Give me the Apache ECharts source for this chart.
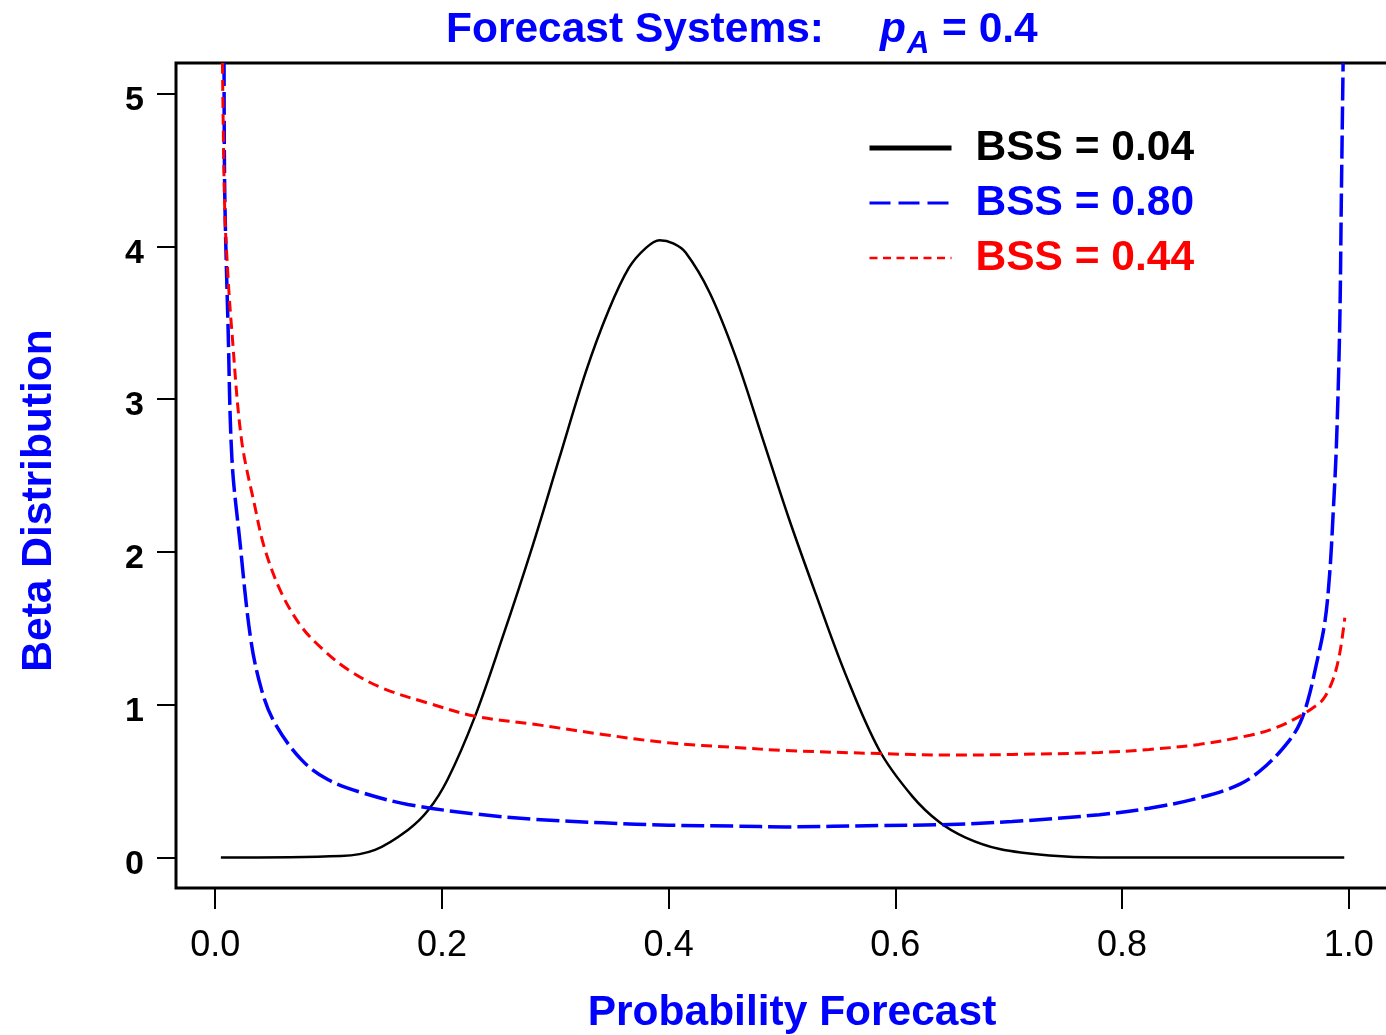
<!DOCTYPE html>
<html>
<head>
<meta charset="utf-8">
<title>Forecast Systems</title>
<script src="https://cdn.jsdelivr.net/npm/echarts@6/dist/echarts.min.js"></script>
<style>
html, body { margin: 0; padding: 0; background: #fff; }
#chartDiv { width: 1386px; height: 1035px; }
</style>
</head>
<body>
<div id="chartDiv"></div>
<script>
// 数据
var xTicks = [0, 0.2, 0.4, 0.6, 0.8, 1.0];
var yTicks = [0, 1, 2, 3, 4, 5];
var names = ['BSS = 0.04', 'BSS = 0.80', 'BSS = 0.44'];

var blackX = [0.005, 0.111, 0.141, 0.17, 0.188, 0.205, 0.229, 0.253, 0.28, 0.303, 0.327, 0.347, 0.365, 0.38, 0.392, 0.404, 0.415, 0.436, 0.459, 0.483, 0.506, 0.53, 0.556, 0.586, 0.615, 0.639, 0.662, 0.692, 0.736, 0.78, 0.996];
var blackY = [0, 0.01, 0.05, 0.18, 0.31, 0.51, 0.92, 1.43, 2.04, 2.60, 3.18, 3.58, 3.86, 3.99, 4.04, 4.02, 3.96, 3.70, 3.28, 2.74, 2.22, 1.72, 1.20, 0.70, 0.40, 0.23, 0.13, 0.055, 0.013, 0, 0];

var blueX = [0.0078, 0.0084, 0.0113, 0.0148, 0.0216, 0.0313, 0.0408, 0.0525, 0.076, 0.0993, 0.129, 0.17, 0.229, 0.283, 0.342, 0.40, 0.459, 0.503, 0.586, 0.639, 0.703, 0.78, 0.824, 0.868, 0.904, 0.927, 0.948, 0.957, 0.964, 0.971, 0.9788, 0.9832, 0.9862, 0.9891, 0.992, 0.9935, 0.995];
var blueY = [5.2, 4.35, 3.48, 2.60, 2.08, 1.43, 1.10, 0.88, 0.64, 0.51, 0.425, 0.347, 0.285, 0.249, 0.227, 0.211, 0.205, 0.20, 0.209, 0.214, 0.235, 0.28, 0.322, 0.39, 0.48, 0.60, 0.77, 0.88, 1.03, 1.25, 1.536, 1.863, 2.25, 2.70, 3.48, 4.35, 5.2];

var redX = [0.0064, 0.0084, 0.0113, 0.0143, 0.0231, 0.0349, 0.0437, 0.0585, 0.0761, 0.0938, 0.117, 0.147, 0.188, 0.229, 0.283, 0.342, 0.40, 0.459, 0.503, 0.586, 0.645, 0.703, 0.78, 0.824, 0.868, 0.913, 0.936, 0.957, 0.9685, 0.9773, 0.9861, 0.9921, 0.9965];
var redY = [5.2, 4.24, 3.80, 3.48, 2.74, 2.30, 2.02, 1.73, 1.51, 1.37, 1.23, 1.11, 1.01, 0.925, 0.87, 0.805, 0.75, 0.72, 0.70, 0.68, 0.67, 0.674, 0.687, 0.707, 0.74, 0.80, 0.85, 0.925, 0.98, 1.034, 1.165, 1.34, 1.569];

function pairs(xs, ys) {
    var out = [];
    for (var i = 0; i < xs.length; i++) out.push([xs[i], ys[i]]);
    return out;
}

var font = 'Liberation Sans, Arial, Helvetica, sans-serif';
var Chart1 = echarts.init(document.getElementById('chartDiv'));

var option = {
    animation: false,
    backgroundColor: '#fff',
    textStyle: { fontFamily: font },
    graphic: [
        { type: 'text', left: 446, top: 9, style: { text: 'Forecast Systems:', fill: '#0000ff', font: 'bold 42.5px ' + font } },
        { type: 'text', left: 880, top: 9, style: { text: 'p', fill: '#0000ff', font: 'italic bold 42.5px ' + font } },
        { type: 'text', left: 907, top: 29, style: { text: 'A', fill: '#0000ff', font: 'italic bold 31px ' + font } },
        { type: 'text', left: 942, top: 9, style: { text: '= 0.4', fill: '#0000ff', font: 'bold 42.5px ' + font } }
    ],
    grid: {
        left: 176, top: 63, width: 1212, height: 825,
        outerBoundsMode: 'none',
        show: true, borderColor: '#000', borderWidth: 3, backgroundColor: 'transparent'
    },
    legend: {
        orient: 'vertical', left: 862, top: 121,
        itemWidth: 82, itemHeight: 20, itemGap: 11,
        selectedMode: false,
        itemStyle: { opacity: 0 },
        textStyle: { fontSize: 42.5, fontWeight: 'bold', fontFamily: font, lineHeight: 44, padding: [0, 0, 0, 19] },
        data: [
            { name: names[0], textStyle: { color: '#000' }, lineStyle: { width: 5, type: 'solid' } },
            { name: names[1], textStyle: { color: '#0000ff' }, lineStyle: { width: 3, type: [21, 8] } },
            { name: names[2], textStyle: { color: '#ff0000' }, lineStyle: { width: 2.5, type: [8, 5.5] } }
        ]
    },
    xAxis: {
        type: 'value', min: -0.0346, max: 1.0346,
        name: 'Probability Forecast', nameLocation: 'middle', nameGap: 104,
        nameTextStyle: { color: '#0000ff', fontSize: 42.5, fontWeight: 'bold', fontFamily: font, padding: [0, 0, 0, 20] },
        axisLine: { show: false, onZero: false },
        splitLine: { show: false },
        axisTick: { show: true, length: 21, lineStyle: { color: '#000', width: 2 }, customValues: xTicks },
        axisLabel: {
            customValues: xTicks, color: '#000', fontSize: 36, fontFamily: font, margin: 40,
            formatter: function (v) { return v.toFixed(1); }
        }
    },
    yAxis: {
        type: 'value', min: -0.2, max: 5.2,
        name: 'Beta Distribution', nameLocation: 'middle', nameGap: 115, nameRotate: 90,
        nameTextStyle: { color: '#0000ff', fontSize: 42.5, fontWeight: 'bold', fontFamily: font, padding: [0, 50, 0, 0] },
        axisLine: { show: false, onZero: false },
        splitLine: { show: false },
        axisTick: { show: true, length: 19, lineStyle: { color: '#000', width: 2 }, customValues: yTicks },
        axisLabel: {
            customValues: yTicks, color: '#000', fontSize: 34, fontWeight: 'bold', fontFamily: font, margin: 32,
            verticalAlign: 'top', lineHeight: 14,
            formatter: function (v) { return String(v); }
        }
    },
    series: [
        {
            name: names[0], type: 'line', data: pairs(blackX, blackY),
            symbol: 'none', smooth: 0.35, clip: true,
            lineStyle: { color: '#000', width: 2.5 }, itemStyle: { color: '#000' }
        },
        {
            name: names[1], type: 'line', data: pairs(blueX, blueY),
            symbol: 'none', smooth: 0.35, clip: true,
            lineStyle: { color: '#0000ff', width: 3.5, type: [23, 6] }, itemStyle: { color: '#0000ff' }
        },
        {
            name: names[2], type: 'line', data: pairs(redX, redY),
            symbol: 'none', smooth: 0.35, clip: true,
            lineStyle: { color: '#ff0000', width: 3, type: [11, 6] }, itemStyle: { color: '#ff0000' }
        }
    ]
};

Chart1.setOption(option);
</script>
</body>
</html>
